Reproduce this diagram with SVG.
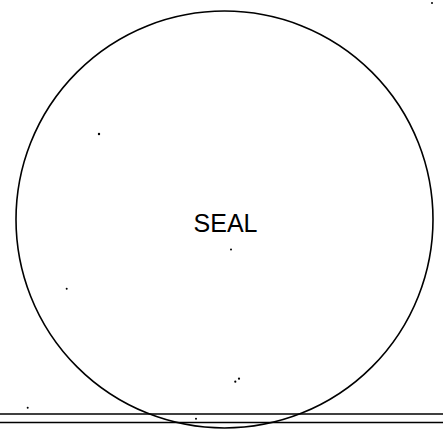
<svg xmlns="http://www.w3.org/2000/svg" width="443" height="430" viewBox="0 0 443 430">
<style>
.ln{fill:none;stroke:#000;stroke-width:1.6}
.dot{fill:#000}
.lbl{font-family:"Liberation Sans",Arial,sans-serif;font-size:25px;fill:#000}
</style>
<rect width="443" height="430" fill="#fff"/>
<g id="rail">
<line class="ln" x1="0" y1="414" x2="443" y2="414"/>
<line class="ln" x1="0" y1="422.5" x2="443" y2="422.5"/>
</g>
<g id="seal">
<circle class="ln" cx="224.5" cy="219.5" r="208.5"/>
<text class="lbl" x="225.5" y="232" text-anchor="middle">SEAL</text>
</g>
<g id="specks">
<circle class="dot" cx="432" cy="3" r="1"/>
<circle class="dot" cx="99" cy="134" r="1.2"/>
<circle class="dot" cx="231" cy="249.5" r="1"/>
<circle class="dot" cx="66.7" cy="288.7" r="1"/>
<circle class="dot" cx="235.3" cy="381.7" r="1.1"/>
<circle class="dot" cx="239" cy="378.7" r="1.1"/>
<circle class="dot" cx="27.7" cy="407.8" r="1"/>
<circle class="dot" cx="196" cy="418.7" r="1"/>
</g>
</svg>
